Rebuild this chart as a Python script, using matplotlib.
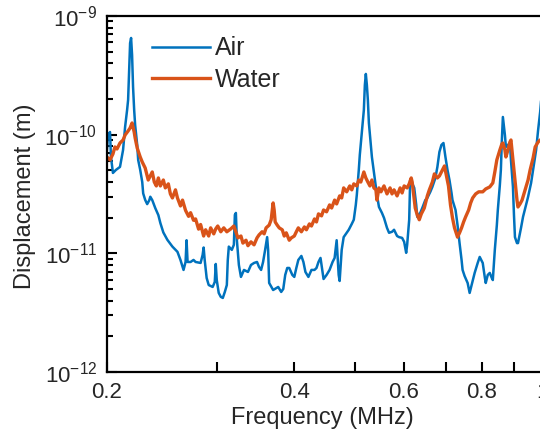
import matplotlib
matplotlib.use("Agg")
import matplotlib.pyplot as plt
from matplotlib.ticker import LogLocator, NullLocator, NullFormatter

# frequency (MHz) / displacement (m)
air_freq = [0.2000, 0.2008, 0.2023, 0.2030, 0.2045, 0.2068, 0.2099, 0.2123, 0.2139, 0.2155,
            0.2163, 0.2171, 0.2179, 0.2187, 0.2195, 0.2203, 0.2212, 0.2220, 0.2237, 0.2245,
            0.2262, 0.2279, 0.2287, 0.2304, 0.2321, 0.2339, 0.2348, 0.2365, 0.2374, 0.2392,
            0.2419, 0.2437, 0.2464, 0.2501, 0.2529, 0.2548, 0.2577, 0.2596, 0.2625, 0.2655,
            0.2675, 0.2685, 0.2695, 0.2725, 0.2755, 0.2776, 0.2828, 0.2849, 0.2860, 0.2871,
            0.2892, 0.2914, 0.2957, 0.2980, 0.2991, 0.3002, 0.3024, 0.3047, 0.3070, 0.3093,
            0.3116, 0.3127, 0.3139, 0.3174, 0.3198, 0.3210, 0.3222, 0.3234, 0.3258, 0.3283,
            0.3320, 0.3369, 0.3407, 0.3446, 0.3484, 0.3510, 0.3537, 0.3563, 0.3590, 0.3617,
            0.3630, 0.3644, 0.3698, 0.3768, 0.3810, 0.3839, 0.3867, 0.3896, 0.3925, 0.3970,
            0.3999, 0.4029, 0.4059, 0.4105, 0.4136, 0.4167, 0.4213, 0.4261, 0.4309, 0.4341,
            0.4373, 0.4406, 0.4456, 0.4506, 0.4556, 0.4607, 0.4642, 0.4677, 0.4712, 0.4729,
            0.4765, 0.4800, 0.4854, 0.4891, 0.4946, 0.4983, 0.5020, 0.5039, 0.5076, 0.5095,
            0.5133, 0.5172, 0.5191, 0.5210, 0.5230, 0.5249, 0.5269, 0.5308, 0.5328, 0.5368,
            0.5388, 0.5428, 0.5469, 0.5530, 0.5572, 0.5634, 0.5677, 0.5740, 0.5783, 0.5848,
            0.5892, 0.5958, 0.6003, 0.6048, 0.6070, 0.6116, 0.6138, 0.6184, 0.6231, 0.6277,
            0.6301, 0.6371, 0.6419, 0.6491, 0.6540, 0.6613, 0.6663, 0.6738, 0.6788, 0.6839,
            0.6890, 0.6942, 0.6993, 0.7046, 0.7098, 0.7152, 0.7178, 0.7259, 0.7313, 0.7368,
            0.7423, 0.7451, 0.7506, 0.7591, 0.7648, 0.7705, 0.7791, 0.7879, 0.7938, 0.8027,
            0.8087, 0.8117, 0.8178, 0.8239, 0.8301, 0.8332, 0.8363, 0.8394, 0.8457, 0.8488,
            0.8552, 0.8584, 0.8616, 0.8648, 0.8713, 0.8745, 0.8811, 0.8877, 0.8910, 0.8976,
            0.9010, 0.9043, 0.9111, 0.9145, 0.9248, 0.9317, 0.9422, 0.9492, 0.9599, 0.9671,
            0.9779, 0.9852, 0.9926, 0.9963, 1.0000]
air_disp = [7.43e-11, 9.94e-11, 1.054e-10, 6.49e-11, 4.76e-11, 5.05e-11, 5.35e-11, 7.43e-11, 1.161e-10, 1.616e-10,
            1.962e-10, 3.51e-10, 5.92e-10, 6.53e-10, 4.69e-10, 2.52e-10, 1.616e-10, 1.207e-10, 8.19e-11, 6.13e-11,
            5.05e-11, 3.99e-11, 3.20e-11, 2.82e-11, 2.60e-11, 2.80e-11, 3.00e-11, 2.81e-11, 2.66e-11, 2.40e-11,
            2.10e-11, 1.80e-11, 1.50e-11, 1.30e-11, 1.20e-11, 1.14e-11, 1.07e-11, 1.03e-11, 8.80e-12, 7.25e-12,
            8.46e-12, 1.29e-11, 8.46e-12, 8.46e-12, 8.80e-12, 8.46e-12, 8.30e-12, 9.69e-12, 1.12e-11, 8.80e-12,
            6.20e-12, 5.41e-12, 5.21e-12, 5.74e-12, 8.14e-12, 5.96e-12, 4.64e-12, 4.30e-12, 4.21e-12, 4.73e-12,
            5.41e-12, 8.80e-12, 1.14e-11, 1.07e-11, 1.18e-11, 2.11e-11, 2.19e-11, 1.29e-11, 7.98e-12, 6.33e-12,
            7.25e-12, 6.97e-12, 7.98e-12, 8.30e-12, 8.46e-12, 7.68e-12, 7.25e-12, 8.46e-12, 1.07e-11, 1.37e-11,
            1.07e-11, 5.63e-12, 4.91e-12, 5.21e-12, 4.73e-12, 5.01e-12, 6.58e-12, 7.53e-12, 7.53e-12, 6.58e-12,
            6.33e-12, 7.53e-12, 8.80e-12, 9.51e-12, 8.46e-12, 6.97e-12, 6.33e-12, 7.25e-12, 7.25e-12, 7.53e-12,
            8.46e-12, 9.15e-12, 6.08e-12, 6.58e-12, 7.25e-12, 8.46e-12, 9.15e-12, 1.29e-11, 6.58e-12, 5.85e-12,
            1.07e-11, 1.37e-11, 1.49e-11, 1.58e-11, 1.77e-11, 1.92e-11, 2.56e-11, 3.11e-11, 5.05e-11, 6.75e-11,
            1.034e-10, 1.616e-10, 2.62e-10, 3.25e-10, 2.62e-10, 1.962e-10, 1.255e-10, 8.19e-11, 6.49e-11, 4.85e-11,
            4.15e-11, 3.11e-11, 2.46e-11, 2.19e-11, 1.99e-11, 1.64e-11, 1.49e-11, 1.52e-11, 1.58e-11, 1.40e-11,
            1.37e-11, 1.35e-11, 1.25e-11, 1.01e-11, 1.18e-11, 1.92e-11, 4.15e-11, 3.90e-11, 3.56e-11, 2.56e-11,
            2.03e-11, 2.19e-11, 2.41e-11, 2.81e-11, 2.93e-11, 3.30e-11, 3.63e-11, 4.32e-11, 5.35e-11, 7.15e-11,
            8.19e-11, 8.51e-11, 6.49e-11, 5.05e-11, 4.15e-11, 3.23e-11, 2.81e-11, 2.32e-11, 1.73e-11, 1.22e-11,
            8.80e-12, 7.25e-12, 6.45e-12, 5.63e-12, 4.64e-12, 5.41e-12, 6.84e-12, 8.30e-12, 9.33e-12, 8.30e-12,
            6.33e-12, 5.63e-12, 6.58e-12, 6.84e-12, 6.20e-12, 5.96e-12, 7.98e-12, 1.07e-11, 1.73e-11, 2.32e-11,
            3.77e-11, 5.05e-11, 9.02e-11, 1.410e-10, 9.94e-11, 7.88e-11, 8.19e-11, 8.51e-11, 6.13e-11, 3.63e-11,
            2.11e-11, 1.37e-11, 1.22e-11, 1.22e-11, 1.64e-11, 2.03e-11, 2.56e-11, 2.99e-11, 3.92e-11, 5.05e-11,
            7.43e-11, 1.096e-10, 1.555e-10, 1.962e-10, 2.08e-10]

water_freq = [0.2000, 0.2023, 0.2045, 0.2060, 0.2076, 0.2099, 0.2123, 0.2139, 0.2163, 0.2179,
              0.2195, 0.2212, 0.2220, 0.2237, 0.2262, 0.2279, 0.2304, 0.2330, 0.2348, 0.2365,
              0.2383, 0.2401, 0.2419, 0.2437, 0.2464, 0.2482, 0.2510, 0.2529, 0.2548, 0.2577,
              0.2596, 0.2625, 0.2645, 0.2675, 0.2705, 0.2725, 0.2755, 0.2776, 0.2807, 0.2828,
              0.2860, 0.2881, 0.2914, 0.2935, 0.2969, 0.2991, 0.3013, 0.3047, 0.3081, 0.3116,
              0.3163, 0.3198, 0.3222, 0.3246, 0.3283, 0.3307, 0.3345, 0.3369, 0.3407, 0.3446,
              0.3484, 0.3510, 0.3550, 0.3577, 0.3603, 0.3644, 0.3671, 0.3698, 0.3712, 0.3726,
              0.3754, 0.3782, 0.3825, 0.3853, 0.3882, 0.3925, 0.3955, 0.3999, 0.4029, 0.4059,
              0.4105, 0.4151, 0.4182, 0.4229, 0.4261, 0.4309, 0.4341, 0.4373, 0.4423, 0.4456,
              0.4506, 0.4556, 0.4591, 0.4642, 0.4677, 0.4729, 0.4765, 0.4800, 0.4854, 0.4909,
              0.4946, 0.4983, 0.5039, 0.5076, 0.5114, 0.5172, 0.5210, 0.5249, 0.5289, 0.5328,
              0.5368, 0.5408, 0.5428, 0.5469, 0.5510, 0.5572, 0.5634, 0.5698, 0.5740, 0.5783,
              0.5848, 0.5914, 0.5958, 0.6003, 0.6070, 0.6116, 0.6162, 0.6184, 0.6231, 0.6254,
              0.6301, 0.6348, 0.6396, 0.6467, 0.6540, 0.6589, 0.6663, 0.6713, 0.6788, 0.6839,
              0.6916, 0.6968, 0.7020, 0.7072, 0.7125, 0.7178, 0.7232, 0.7313, 0.7368, 0.7423,
              0.7479, 0.7535, 0.7620, 0.7677, 0.7734, 0.7821, 0.7909, 0.8027, 0.8117, 0.8239,
              0.8332, 0.8394, 0.8457, 0.8552, 0.8616, 0.8648, 0.8713, 0.8745, 0.8811, 0.8877,
              0.8910, 0.8976, 0.9043, 0.9111, 0.9145, 0.9215, 0.9284, 0.9388, 0.9492, 0.9565,
              0.9671, 0.9745, 0.9852, 0.9926, 1.0000]
water_disp = [6.49e-11, 6.13e-11, 6.88e-11, 7.88e-11, 7.58e-11, 8.51e-11, 9.02e-11, 9.94e-11, 1.075e-10, 1.139e-10,
              1.255e-10, 1.054e-10, 9.38e-11, 7.72e-11, 6.49e-11, 5.89e-11, 5.24e-11, 4.15e-11, 4.49e-11, 4.85e-11,
              3.99e-11, 3.70e-11, 4.32e-11, 3.70e-11, 4.15e-11, 3.56e-11, 3.85e-11, 3.17e-11, 2.93e-11, 3.43e-11,
              2.93e-11, 2.51e-11, 2.81e-11, 2.30e-11, 2.05e-11, 2.20e-11, 1.90e-11, 1.95e-11, 1.60e-11, 1.75e-11,
              1.40e-11, 1.58e-11, 1.40e-11, 1.64e-11, 1.46e-11, 1.61e-11, 1.70e-11, 1.52e-11, 1.64e-11, 1.52e-11,
              1.61e-11, 1.70e-11, 1.52e-11, 1.35e-11, 1.40e-11, 1.22e-11, 1.29e-11, 1.16e-11, 1.25e-11, 1.18e-11,
              1.35e-11, 1.43e-11, 1.52e-11, 1.46e-11, 1.64e-11, 1.73e-11, 1.92e-11, 2.66e-11, 2.32e-11, 1.84e-11,
              1.73e-11, 1.64e-11, 1.58e-11, 1.40e-11, 1.49e-11, 1.29e-11, 1.35e-11, 1.40e-11, 1.52e-11, 1.64e-11,
              1.52e-11, 1.67e-11, 1.58e-11, 1.77e-11, 1.70e-11, 1.95e-11, 1.84e-11, 2.15e-11, 2.07e-11, 2.32e-11,
              2.24e-11, 2.56e-11, 2.41e-11, 2.81e-11, 2.61e-11, 3.05e-11, 2.93e-11, 3.56e-11, 3.30e-11, 3.70e-11,
              3.43e-11, 3.85e-11, 3.70e-11, 4.15e-11, 3.99e-11, 4.85e-11, 4.32e-11, 3.99e-11, 3.70e-11, 4.15e-11,
              3.56e-11, 3.43e-11, 2.81e-11, 3.56e-11, 3.30e-11, 3.70e-11, 3.17e-11, 3.56e-11, 3.17e-11, 3.43e-11,
              3.05e-11, 3.56e-11, 3.23e-11, 3.70e-11, 3.56e-11, 3.85e-11, 4.32e-11, 3.99e-11, 2.81e-11, 2.41e-11,
              2.11e-11, 1.92e-11, 2.15e-11, 2.41e-11, 3.05e-11, 3.43e-11, 3.99e-11, 4.67e-11, 4.32e-11, 4.49e-11,
              5.05e-11, 5.45e-11, 4.49e-11, 3.70e-11, 2.56e-11, 1.99e-11, 1.64e-11, 1.37e-11, 1.49e-11, 1.64e-11,
              1.84e-11, 2.03e-11, 2.32e-11, 2.66e-11, 2.93e-11, 3.17e-11, 3.30e-11, 3.30e-11, 3.49e-11, 3.63e-11,
              3.92e-11, 4.85e-11, 6.13e-11, 7.43e-11, 8.35e-11, 8.51e-11, 7.43e-11, 6.49e-11, 7.43e-11, 8.68e-11,
              9.02e-11, 6.13e-11, 4.15e-11, 2.81e-11, 2.46e-11, 2.61e-11, 2.81e-11, 3.43e-11, 4.15e-11, 5.05e-11,
              6.37e-11, 7.88e-11, 8.68e-11, 9.02e-11, 9.02e-11]

xticks = [0.2, 0.3, 0.4, 0.5, 0.6, 0.7, 0.8, 0.9, 1.0]
xticklabels = ["0.2", "", "0.4", "", "0.6", "", "0.8", "", "1"]
yticks = [1e-12, 1e-11, 1e-10, 1e-9]

text_col = "#262626"
plt.rcParams['font.family'] = ['Liberation Sans', 'DejaVu Sans']
plt.rcParams['mathtext.fontset'] = 'custom'
plt.rcParams['mathtext.rm'] = 'Liberation Sans'
plt.rcParams['mathtext.it'] = 'Liberation Sans:italic'
plt.rcParams['mathtext.bf'] = 'Liberation Sans:bold'

fig = plt.figure(figsize=(5.4, 4.4), dpi=100)
ax = fig.add_axes([0.198, 0.1545, 0.806, 0.8091])

ax.plot(air_freq, air_disp, color="#0072BD", lw=1.8, label="Air")
ax.plot(water_freq, water_disp, color="#D95319", lw=2.4, label="Water")

ax.set_xscale("log")
ax.set_yscale("log")
ax.set_xlim(0.2, 1.0)
ax.set_ylim(1e-12, 1e-9)

ax.set_xticks(xticks)
ax.set_xticklabels(xticklabels)
ax.xaxis.set_minor_locator(NullLocator())
ax.set_yticks(yticks)
ax.yaxis.set_minor_locator(LogLocator(base=10, subs=range(2, 10)))
ax.yaxis.set_minor_formatter(NullFormatter())

ax.tick_params(which="both", direction="in", top=False, right=False,
               width=1.5, labelcolor=text_col, labelsize=16)
ax.tick_params(which="major", length=7, pad=7)
ax.tick_params(which="minor", length=4)

for side in ["left", "bottom", "top"]:
    ax.spines[side].set_linewidth(1.6)
ax.spines["right"].set_visible(False)

ax.set_xlabel("Frequency (MHz)", fontsize=17, color=text_col)
ax.set_ylabel("Displacement (m)", fontsize=17, color=text_col)
ax.xaxis.set_label_coords(0.494, -0.097)
ax.yaxis.set_label_coords(-0.162, 0.494)

leg = ax.legend(loc="upper left", bbox_to_anchor=(0.104, 0.943), frameon=False,
                fontsize=18, handlelength=2.3, handletextpad=0.2,
                labelspacing=0.3, borderpad=0, borderaxespad=0)
for t in leg.get_texts():
    t.set_color(text_col)

fig.savefig("out.png", dpi=100)
